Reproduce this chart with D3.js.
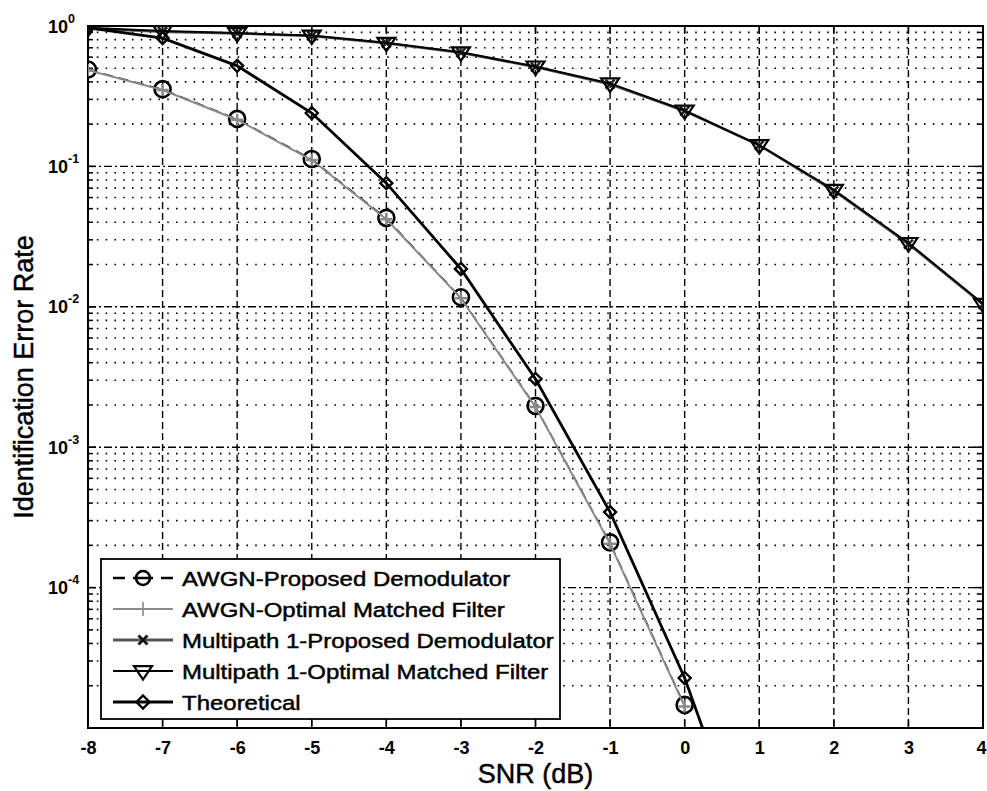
<!DOCTYPE html>
<html>
<head>
<meta charset="utf-8">
<script src="https://cdn.jsdelivr.net/npm/d3@7"></script>
<style>
  html, body { margin: 0; padding: 0; background: #fff; }
  svg { display: block; }
  text { font-family: "Liberation Sans", Arial, Helvetica, sans-serif; fill: #000; }
  .heavy { stroke: #000; stroke-width: 0.45px; }
</style>
</head>
<body>
<svg id="chart" width="987" height="791"></svg>
<script>
// ---------- data ----------
const snrAll = [-8, -7, -6, -5, -4, -3, -2, -1, 0, 1, 2, 3, 4];
const snrAwgn = [-8, -7, -6, -5, -4, -3, -2, -1, 0];
const snrTheory = [-8, -7, -6, -5, -4, -3, -2, -1, 0, 1];
const awgnProposed = [0.49, 0.355, 0.218, 0.113, 0.043, 0.0117, 0.00197, 0.00021, 0.0000146];
const awgnOptimal = [0.485, 0.35, 0.215, 0.111, 0.042, 0.0115, 0.00193, 0.000205, 0.0000142];
const multipathProposed = [0.96, 0.91, 0.885, 0.85, 0.755, 0.645, 0.51, 0.385, 0.248, 0.141, 0.067, 0.028, 0.0104];
const multipathOptimal = [0.97, 0.92, 0.89, 0.855, 0.76, 0.65, 0.515, 0.39, 0.25, 0.142, 0.068, 0.0285, 0.0105];
const theoretical = [0.97, 0.82, 0.52, 0.24, 0.076, 0.0186, 0.00306, 0.000345, 0.0000227, 0.00000075];
const xTicks = [-8, -7, -6, -5, -4, -3, -2, -1, 0, 1, 2, 3, 4];
const yDecades = [1, 1e-1, 1e-2, 1e-3, 1e-4, 1e-5];
const yLabelExp = ["0", "-1", "-2", "-3", "-4"];
const legendLabels = [
  "AWGN-Proposed Demodulator",
  "AWGN-Optimal Matched Filter",
  "Multipath 1-Proposed Demodulator",
  "Multipath 1-Optimal Matched Filter",
  "Theoretical"
];
const xLabel = "SNR (dB)";
const yLabel = "Identification Error Rate";

// ---------- layout ----------
const L = 88, R = 983, T = 26, B = 728;
const svg = d3.select("#chart");
const x = d3.scaleLinear().domain([-8, 4]).range([L, R]);
const y = d3.scaleLog().domain([1e-5, 1]).range([B, T]);

svg.append("defs").append("clipPath").attr("id", "plotclip")
  .append("rect").attr("x", L).attr("y", T).attr("width", R - L).attr("height", B - T);

// ---------- grid ----------
const grid = svg.append("g");
const minor = [];
for (let e = -5; e < 0; e++) for (let m = 2; m <= 9; m++) minor.push(m * Math.pow(10, e));
grid.selectAll("line.minor").data(minor).enter().append("line")
  .attr("x1", L).attr("x2", R).attr("y1", d => y(d)).attr("y2", d => y(d))
  .attr("stroke", "#000").attr("stroke-width", 1.6).attr("stroke-dasharray", "1.6,7.2");
grid.selectAll("line.majy").data(yDecades.slice(1, 5)).enter().append("line")
  .attr("x1", L).attr("x2", R).attr("y1", d => y(d)).attr("y2", d => y(d))
  .attr("stroke", "#000").attr("stroke-width", 1.4).attr("stroke-dasharray", "8,3,2,3");
grid.selectAll("line.majx").data(xTicks.slice(1, -1)).enter().append("line")
  .attr("x1", d => x(d)).attr("x2", d => x(d)).attr("y1", T).attr("y2", B)
  .attr("stroke", "#000").attr("stroke-width", 1.4).attr("stroke-dasharray", "7,4");

// ---------- axes box & ticks ----------
const axes = svg.append("g");
axes.append("rect").attr("x", L).attr("y", T).attr("width", R - L).attr("height", B - T)
  .attr("fill", "none").attr("stroke", "#000").attr("stroke-width", 2);
axes.selectAll("line.xtb").data(xTicks).enter().append("line")
  .attr("x1", d => x(d)).attr("x2", d => x(d)).attr("y1", B).attr("y2", B - 8)
  .attr("stroke", "#000").attr("stroke-width", 1.5);
axes.selectAll("line.xtt").data(xTicks).enter().append("line")
  .attr("x1", d => x(d)).attr("x2", d => x(d)).attr("y1", T).attr("y2", T + 8)
  .attr("stroke", "#000").attr("stroke-width", 1.5);
[L, R].forEach(edge => {
  const dir = edge === L ? 1 : -1;
  axes.selectAll(null).data(yDecades).enter().append("line")
    .attr("x1", edge).attr("x2", edge + dir * 8).attr("y1", d => y(d)).attr("y2", d => y(d))
    .attr("stroke", "#000").attr("stroke-width", 1.5);
  axes.selectAll(null).data(minor).enter().append("line")
    .attr("x1", edge).attr("x2", edge + dir * 5).attr("y1", d => y(d)).attr("y2", d => y(d))
    .attr("stroke", "#000").attr("stroke-width", 1.5);
});

// tick labels
const xAxis = d3.axisBottom(x).tickValues(xTicks).tickSize(0).tickPadding(13).tickFormat(d3.format("d"));
const gx = svg.append("g").attr("transform", `translate(0,${B})`).call(xAxis);
gx.select(".domain").remove();
gx.selectAll("text").style("font-size", "18px").style("font-weight", "bold")
  .style("font-family", "'Liberation Sans', Arial, sans-serif")
  .attr("dx", d => d === 4 ? -2 : 0)
  .text(d => d < 0 ? "-" + Math.abs(d) : d);

yLabelExp.forEach((ex, i) => {
  const t = svg.append("text").attr("x", 48).attr("y", y(yDecades[i]) + 6.5)
    .style("font-size", "18px").style("font-weight", "bold");
  t.append("tspan").text("10");
  t.append("tspan").attr("dy", -10).style("font-size", "12.5px").text(ex);
});

// axis labels
svg.append("text").attr("class", "heavy").attr("x", (L + R) / 2).attr("y", 783).attr("text-anchor", "middle")
  .style("font-size", "27px").text(xLabel);
svg.append("text").attr("class", "heavy").attr("transform", `translate(33,${(T + B) / 2}) rotate(-90)`)
  .attr("text-anchor", "middle").style("font-size", "27px").text(yLabel);

// ---------- series ----------
const plot = svg.append("g").attr("clip-path", "url(#plotclip)");
const lineGen = d3.line().x(d => x(d[0])).y(d => y(d[1]));
const zip = (xs, ys) => xs.map((v, i) => [v, ys[i]]);

const sAP = zip(snrAwgn, awgnProposed);
const sAO = zip(snrAwgn, awgnOptimal);
const sMP = zip(snrAll, multipathProposed);
const sMO = zip(snrAll, multipathOptimal);
const sTh = zip(snrTheory, theoretical);

function circleMarker(g, cx, cy, r) {
  g.append("circle").attr("cx", cx).attr("cy", cy).attr("r", r)
    .attr("fill", "none").attr("stroke", "#000").attr("stroke-width", 2.6);
}
function plusMarker(g, cx, cy, s, color, w) {
  g.append("path").attr("d", `M${cx - s},${cy}H${cx + s}M${cx},${cy - s}V${cy + s}`)
    .attr("stroke", color).attr("stroke-width", w).attr("fill", "none");
}
function xMarker(g, cx, cy, s, color, w) {
  g.append("path").attr("d", `M${cx - s},${cy - s}L${cx + s},${cy + s}M${cx - s},${cy + s}L${cx + s},${cy - s}`)
    .attr("stroke", color).attr("stroke-width", w).attr("fill", "none");
}
function triMarker(g, cx, cy, s) {
  g.append("path").attr("d", `M${cx - s},${cy - s * 0.55}L${cx + s},${cy - s * 0.55}L${cx},${cy + s * 0.95}Z`)
    .attr("fill", "none").attr("stroke", "#000").attr("stroke-width", 2.2).attr("stroke-linejoin", "miter");
}
function diaMarker(g, cx, cy, s) {
  g.append("path").attr("d", `M${cx},${cy - s}L${cx + s},${cy}L${cx},${cy + s}L${cx - s},${cy}Z`)
    .attr("fill", "none").attr("stroke", "#000").attr("stroke-width", 2.4);
}

// 1. AWGN-Proposed (black dashed, circles)
plot.append("path").datum(sAP).attr("d", lineGen).attr("fill", "none")
  .attr("stroke", "#000").attr("stroke-width", 1).attr("stroke-dasharray", "10,6");
const gAP = plot.append("g");
sAP.forEach(d => circleMarker(gAP, x(d[0]), y(d[1]), 8));
// 2. AWGN-Optimal (gray thin, plus)
plot.append("path").datum(sAO).attr("d", lineGen).attr("fill", "none")
  .attr("stroke", "#8a8a8a").attr("stroke-width", 2);
const gAO = plot.append("g");
sAO.forEach(d => plusMarker(gAO, x(d[0]), y(d[1]), 6, "#8a8a8a", 2.5));
// 3. Multipath 1-Proposed (gray, x)
plot.append("path").datum(sMP).attr("d", lineGen).attr("fill", "none")
  .attr("stroke", "#555").attr("stroke-width", 2.5);
const gMP = plot.append("g");
sMP.forEach(d => xMarker(gMP, x(d[0]), y(d[1]), 4.5, "#222", 2.5));
// 4. Multipath 1-Optimal (black, triangles)
plot.append("path").datum(sMO).attr("d", lineGen).attr("fill", "none")
  .attr("stroke", "#000").attr("stroke-width", 2);
const gMO = plot.append("g");
sMO.forEach(d => triMarker(gMO, x(d[0]), y(d[1]), 9));
// 5. Theoretical (black thick, diamonds)
plot.append("path").datum(sTh).attr("d", lineGen).attr("fill", "none")
  .attr("stroke", "#000").attr("stroke-width", 2.8);
const gTh = plot.append("g");
sTh.forEach(d => diaMarker(gTh, x(d[0]), y(d[1]), 6));

// ---------- legend ----------
const lg = svg.append("g");
lg.append("rect").attr("x", 101).attr("y", 559).attr("width", 459).attr("height", 160)
  .attr("fill", "#fff").attr("stroke", "#000").attr("stroke-width", 1.8);
const rowY = [578, 609, 640, 671, 702];
const lx1 = 113, lx2 = 173, lmx = 143;
// row 1
lg.append("line").attr("x1", lx1).attr("x2", lx2).attr("y1", rowY[0]).attr("y2", rowY[0])
  .attr("stroke", "#000").attr("stroke-width", 2.6).attr("stroke-dasharray", "12,8,20,8,12");
circleMarker(lg, lmx, rowY[0], 7);
// row 2
lg.append("line").attr("x1", lx1).attr("x2", lx2).attr("y1", rowY[1]).attr("y2", rowY[1])
  .attr("stroke", "#8a8a8a").attr("stroke-width", 2);
plusMarker(lg, lmx, rowY[1], 7, "#8a8a8a", 1.6);
// row 3
lg.append("line").attr("x1", lx1).attr("x2", lx2).attr("y1", rowY[2]).attr("y2", rowY[2])
  .attr("stroke", "#555").attr("stroke-width", 2.8);
xMarker(lg, lmx, rowY[2], 4.5, "#111", 2.8);
// row 4
lg.append("line").attr("x1", lx1).attr("x2", lx2).attr("y1", rowY[3]).attr("y2", rowY[3])
  .attr("stroke", "#000").attr("stroke-width", 2);
triMarker(lg, lmx, rowY[3], 9);
// row 5
lg.append("line").attr("x1", lx1).attr("x2", lx2).attr("y1", rowY[4]).attr("y2", rowY[4])
  .attr("stroke", "#000").attr("stroke-width", 2.8);
diaMarker(lg, lmx, rowY[4], 6.5);

legendLabels.forEach((t, i) => {
  lg.append("text").attr("class", "heavy").attr("transform", `translate(182,${rowY[i] + 7.5}) scale(1.17,1)`)
    .style("font-size", "20.5px").text(t);
});
</script>
</body>
</html>
